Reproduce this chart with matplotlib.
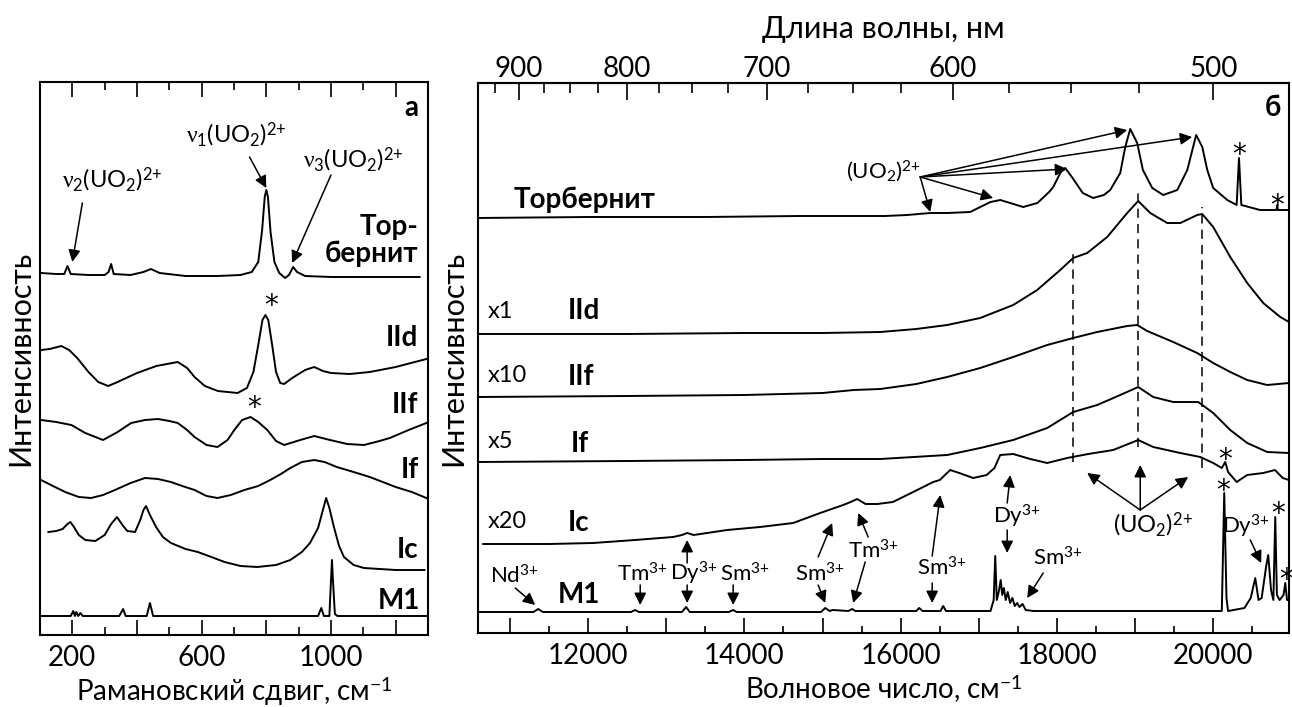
import numpy as np
import matplotlib
matplotlib.use('Agg')
import matplotlib.pyplot as plt
from matplotlib.ticker import FixedLocator, MultipleLocator, FuncFormatter

plt.rcParams['font.family'] = ['Lato', 'DejaVu Sans']
plt.rcParams['mathtext.fontset'] = 'custom'
plt.rcParams['mathtext.rm'] = 'Lato'
plt.rcParams['mathtext.it'] = 'Liberation Serif'
plt.rcParams['mathtext.bf'] = 'Lato:bold'

# ---------- Raman spectra (panel a), shift in cm-1, heights above own baseline
raman_torb_x = [103, 150, 175, 185, 195, 250, 300, 312, 320, 328, 380, 420, 443, 470, 550, 650, 720,
                755, 775, 787, 795, 800, 805, 813, 825, 840, 858, 870, 883, 895, 920, 1000, 1100, 1274]
raman_torb = [4, 3, 3, 11, 3, 2, 2, 5, 13, 3, 2, 5, 8, 4, 1, 1, 2,
              5, 15, 47, 80, 87, 80, 45, 15, 4, -1, 2, 10, 5, 1, 0, 0, 0]

raman_IId_x = [103, 130, 166, 190, 215, 250, 280, 311, 340, 400, 460, 526, 555, 578, 610, 650, 711, 740,
               760, 775, 788, 797, 806, 818, 830, 843, 855, 880, 920, 948, 975, 1000, 1058, 1120, 1200, 1295]
raman_IId = [43, 44, 47, 43, 35, 21, 11, 7, 11, 20, 27, 31, 25, 16, 7, 2, 0, 5,
             21, 48, 73, 78, 73, 48, 21, 10, 9, 15, 23, 26, 22, 20, 19, 21, 26, 34]

raman_IIf_x = [103, 150, 197, 240, 295, 340, 382, 425, 465, 500, 526, 555, 578, 615, 649, 680,
               701, 725, 751, 775, 803, 830, 855, 905, 948, 997, 1050, 1102, 1150, 1182, 1240, 1295]
raman_IIf = [27, 25, 22, 14, 7, 15, 24, 27, 28, 26, 24, 17, 10, 2, 0, 7,
             17, 27, 30, 25, 17, 6, 2, 7, 11, 7, 3, 2, 6, 9, 17, 24]

raman_If_x = [103, 140, 178, 220, 258, 295, 332, 380, 425, 465, 505, 540, 578, 615, 649,
              690, 732, 775, 812, 845, 874, 910, 948, 980, 1018, 1070, 1120, 1200, 1250, 1295]
raman_If = [18, 12, 6, 1, 0, 3, 8, 15, 20, 19, 16, 12, 8, 2, 0,
            3, 8, 12, 18, 24, 30, 36, 38, 36, 31, 26, 21, 11, 6, 0]

raman_Ic_x = [126, 150, 170, 185, 194, 205, 220, 240, 271, 300, 320, 338, 355, 370, 394, 410, 420, 428,
              440, 459, 480, 505, 550, 588, 630, 671, 720, 772, 830, 874, 910, 935, 950, 960, 975,
              985, 995, 1009, 1025, 1040, 1070, 1102, 1200, 1289]
raman_Ic = [38, 39, 41, 46, 48, 43, 35, 30, 29, 35, 46, 53, 45, 39, 38, 50, 60, 64,
            55, 43, 33, 27, 21, 18, 13, 8, 4, 3, 5, 10, 18, 27, 36, 42, 60,
            72, 62, 43, 24, 13, 5, 2, 0, 0]

raman_M1_x = [101, 195, 203, 208, 212, 218, 225, 232, 345, 357, 365, 430, 440, 450,
              960, 970, 978, 995, 1000, 1003, 1006, 1012, 1020, 1299]
raman_M1 = [0, 0, 5, 0, 4, 0, 3, 0, 0, 7, 0, 0, 13, 0,
            0, 8, 0, 0, 36, 56, 36, 2, 0, 0]

raman_offsets = {'torb': 358, 'IId': 242, 'IIf': 188, 'If': 137, 'Ic': 65, 'M1': 19}

# ---------- luminescence spectra (panel б), wavenumber in cm-1
lum_torb_x = [10590, 12000, 13500, 14700, 15200, 15800, 16083, 16378, 16600, 16890, 17018, 17150,
              17274, 17400, 17568, 17750, 17900, 17952, 18050, 18106, 18200, 18330, 18464, 18600,
              18682, 18810, 18874, 18938, 19027, 19100, 19220, 19360, 19540, 19668, 19782, 19860,
              19924, 20000, 20180, 20300, 20330, 20360, 20600, 20810, 20819, 20830, 20970]
lum_torb = [-1, 0, 0, 1, 1, 1, 2, 4, 4, 5, 10, 15,
            17, 14, 10, 14, 25, 30, 45, 49, 39, 24, 19, 22,
            27, 44, 70, 88, 74, 47, 29, 22, 27, 47, 82, 70,
            47, 29, 17, 12, 59, 12, 7, 7, 12, 7, 7]

lum_IId_x = [10590, 12500, 14000, 15000, 15738, 16200, 16595, 17018, 17440, 17747, 18042, 18208, 18387,
             18643, 18899, 19040, 19194, 19411, 19580, 19795, 19859, 20000, 20218, 20435, 20640, 20858, 20970]
lum_IId = [0, 0, 1, 1, 2, 5, 9, 16, 29, 44, 64, 76, 81,
           97, 121, 133, 121, 111, 111, 119, 120, 107, 77, 51, 31, 17, 12]

lum_IIf_x = [10590, 12500, 14000, 15000, 15400, 15738, 16200, 16595, 17018, 17440, 17875, 18208,
             18515, 18899, 19027, 19155, 19488, 19795, 20000, 20218, 20435, 20691, 20970]
lum_IIf = [0, 1, 2, 4, 7, 8, 13, 20, 29, 40, 52, 59,
           65, 71, 72, 66, 55, 44, 34, 25, 17, 12, 14]

lum_If_x = [10590, 12500, 14000, 15000, 15738, 16595, 17018, 17440, 17875, 18208, 18515,
            18810, 19040, 19232, 19488, 19808, 20000, 20218, 20435, 20691, 20970]
lum_If = [0, 1, 2, 3, 3, 7, 14, 22, 34, 50, 57,
          67, 75, 65, 60, 60, 49, 32, 19, 10, 9]

lum_Ic_x = [10656, 11500, 12064, 12600, 13088, 13200, 13267, 13350, 13779, 14200, 14624, 14970,
            15264, 15360, 15443, 15550, 15700, 15900, 16160, 16416, 16500, 16634, 16750, 16928,
            17100, 17200, 17274, 17440, 17658, 17875, 18131, 18400, 18720, 19040, 19232, 19578,
            19834, 20000, 20110, 20154, 20190, 20300, 20435, 20640, 20790, 20890, 20970]
lum_Ic = [1, 1, 2, 5, 8, 10, 12, 10, 15, 18, 22, 32,
          40, 43, 46, 41, 41, 43, 53, 63, 65, 75, 72, 67,
          70, 77, 90, 91, 86, 82, 87, 91, 95, 105, 98, 92,
          88, 82, 77, 83, 73, 63, 70, 72, 75, 67, 65]

lum_M1_x = [10592, 11300, 11360, 11420, 12550, 12600, 12650, 13200, 13254, 13300, 13800, 13856, 13900,
            14980, 15034, 15090, 15130, 15330, 15379, 15420, 16200, 16237, 16280, 16510, 16544, 16580,
            17150, 17190, 17210, 17230, 17260, 17280, 17300, 17320, 17345, 17370, 17400, 17430, 17460,
            17490, 17520, 17560, 17600, 17700, 20110, 20141, 20170, 20190, 20400, 20480, 20538, 20580,
            20620, 20680, 20704, 20740, 20770, 20794, 20815, 20850, 20900, 20922, 20945, 20970]
lum_M1 = [-1, -1, 2, -1, -1, 1, -1, -1, 4, -1, -1, 1, -1,
          -1, 3, 0, 1, 0, 2, 0, 0, 3, 0, 0, 5, 0,
          0, 11, 55, 11, 21, 31, 16, 23, 11, 19, 8, 13, 5,
          8, 4, 7, 1, 0, 0, 118, 13, 0, 3, 13, 33, 11,
          13, 46, 56, 21, 11, 94, 16, 11, 16, 28, 11, 11]

lum_offsets = {'torb': 416, 'IId': 299, 'IIf': 236, 'If': 171, 'Ic': 88, 'M1': 22}

# uranyl bands marked by dashed lines and the vertical extent of each line
uo2_bands = [18208, 19040, 19859]
uo2_band_spans = [(171, 383), (186, 443), (165, 426)]

UO2 = '(UO$_2$)$^{2{+}}$'


def cm_to_nm(x):
    x = np.asarray(x, dtype=float)
    with np.errstate(divide='ignore', invalid='ignore'):
        return 1e7 / x


def arrow(ax, start, end):
    ax.annotate('', xy=end, xytext=start,
                arrowprops=dict(arrowstyle='-|>', color='k', lw=1.1,
                                mutation_scale=18, shrinkA=0, shrinkB=0))


def star(ax, x, y):
    # y is where the middle of the asterisk should sit
    ax.text(x, y - 16, '*', fontsize=20, family='DejaVu Sans', ha='center', va='baseline')


LW = 1.4
fig = plt.figure(figsize=(12.92, 7.07), dpi=100)
ax1 = fig.add_axes([40 / 1292, 1 - 635 / 707, 388 / 1292, 553 / 707])
ax2 = fig.add_axes([478 / 1292, 1 - 633 / 707, 811 / 1292, 550 / 707])

# ---------------- panel a
raman = [(raman_torb_x, raman_torb, 'torb'), (raman_IId_x, raman_IId, 'IId'),
         (raman_IIf_x, raman_IIf, 'IIf'), (raman_If_x, raman_If, 'If'),
         (raman_Ic_x, raman_Ic, 'Ic'), (raman_M1_x, raman_M1, 'M1')]
for xs, ys, key in raman:
    ax1.plot(xs, np.array(ys) + raman_offsets[key], color='k', lw=LW)

ax1.set_xlim(100, 1300)
ax1.set_ylim(0, 553)
ax1.set_yticks([])
ax1.xaxis.set_major_locator(MultipleLocator(200))
ax1.xaxis.set_minor_locator(MultipleLocator(100))
ax1.xaxis.set_major_formatter(FuncFormatter(lambda v, p: f'{int(v)}' if int(v) % 400 == 200 else ''))
ax1.tick_params(axis='x', which='major', direction='in', top=True, length=11, width=1.2,
                labelsize=20, pad=7)
ax1.tick_params(axis='x', which='minor', direction='in', top=True, length=6, width=1.2)
ax1.set_xlabel('Рамановский сдвиг, см$^{-1}$', fontsize=20, labelpad=3)
ax1.set_ylabel('Интенсивность', fontsize=22, labelpad=4)

ax1.text(1271, 527, 'а', fontsize=20, fontweight='bold', ha='right', va='center')
ax1.text(323, 455, r'$\nu_2$' + UO2, fontsize=17, ha='center', va='center')
ax1.text(708, 500, r'$\nu_1$' + UO2, fontsize=17, ha='center', va='center')
ax1.text(1068, 475, r'$\nu_3$' + UO2, fontsize=17, ha='center', va='center')
arrow(ax1, (231, 432), (200, 373))
arrow(ax1, (748, 478), (800, 447))
arrow(ax1, (1000, 460), (880, 372))

bold = dict(fontsize=20, fontweight='bold', ha='right', va='center')
ax1.text(1271, 408, 'Тор-', **bold)
ax1.text(1271, 381, 'бернит', **bold)
ax1.text(1271, 297, 'IId', **bold)
ax1.text(1271, 230, 'IIf', **bold)
ax1.text(1271, 165, 'If', **bold)
ax1.text(1271, 85, 'Ic', **bold)
ax1.text(1277, 34, 'M1', **bold)
star(ax1, 815, 337)
star(ax1, 763, 235)

# ---------------- panel б
lum = [(lum_torb_x, lum_torb, 'torb'), (lum_IId_x, lum_IId, 'IId'),
       (lum_IIf_x, lum_IIf, 'IIf'), (lum_If_x, lum_If, 'If'),
       (lum_Ic_x, lum_Ic, 'Ic'), (lum_M1_x, lum_M1, 'M1')]
for xs, ys, key in lum:
    ax2.plot(xs, np.array(ys) + lum_offsets[key], color='k', lw=LW)

for xb, (y0, y1) in zip(uo2_bands, uo2_band_spans):
    ax2.vlines(xb, y0, y1, colors='k', lw=1.1, linestyles=(0, (6, 4)))

ax2.set_xlim(10590, 20970)
ax2.set_ylim(0, 550)
ax2.set_yticks([])
ax2.xaxis.set_major_locator(MultipleLocator(1000))
ax2.xaxis.set_minor_locator(MultipleLocator(500))
ax2.xaxis.set_major_formatter(FuncFormatter(lambda v, p: f'{int(v)}' if int(v) % 2000 == 0 else ''))
ax2.tick_params(axis='x', which='major', direction='in', length=11, width=1.2, labelsize=20, pad=7)
ax2.tick_params(axis='x', which='minor', direction='in', length=5, width=1.2)
ax2.set_xlabel('Волновое число, см$^{-1}$', fontsize=20, labelpad=3)
ax2.set_ylabel('Интенсивность', fontsize=22, labelpad=8)

secax = ax2.secondary_xaxis('top', functions=(cm_to_nm, cm_to_nm))
secax.xaxis.set_major_locator(FixedLocator([500, 600, 700, 800, 900]))
secax.xaxis.set_minor_locator(FixedLocator(np.arange(475, 951, 25)))
secax.tick_params(which='major', direction='in', length=12, width=1.2, labelsize=20, pad=1)
secax.tick_params(which='minor', direction='in', length=7, width=1.2)
secax.set_xlabel('Длина волны, нм', fontsize=22, labelpad=13)

ax2.text(20870, 525, 'б', fontsize=20, fontweight='bold', ha='right', va='center')

ax2.text(15776, 462, UO2, fontsize=16, ha='center', va='center')
for tgt in [(16378, 421), (17184, 435), (18131, 464), (18899, 503), (19731, 496)]:
    arrow(ax2, (16250, 456), tgt)

star(ax2, 20333, 486)
star(ax2, 20819, 435)

lbold = dict(fontsize=20, fontweight='bold', ha='left', va='center')
ax2.text(11040, 433, 'Торбернит', **lbold)
ax2.text(11744, 322, 'IId', **lbold)
ax2.text(11744, 256, 'IIf', **lbold)
ax2.text(11780, 189, 'If', **lbold)
ax2.text(11744, 110, 'Ic', **lbold)
ax2.text(11616, 38, 'M1', **lbold)

scale = dict(fontsize=17, ha='left', va='center')
ax2.text(10720, 322, 'x1', **scale)
ax2.text(10720, 258, 'x10', **scale)
ax2.text(10720, 192, 'x5', **scale)
ax2.text(10720, 111, 'x20', **scale)

ion = dict(fontsize=16, ha='center', va='center')
ax2.text(11053, 58, 'Nd$^{3{+}}$', **ion)
arrow(ax2, (11066, 45), (11322, 28))
ax2.text(12691, 60, 'Tm$^{3{+}}$', **ion)
arrow(ax2, (12666, 48), (12666, 28))
ax2.text(13357, 60, 'Dy$^{3{+}}$', **ion)
arrow(ax2, (13267, 70), (13267, 93))
arrow(ax2, (13267, 48), (13267, 30))
ax2.text(14010, 60, 'Sm$^{3{+}}$', **ion)
arrow(ax2, (13856, 48), (13856, 28))
ax2.text(14970, 60, 'Sm$^{3{+}}$', **ion)
arrow(ax2, (14944, 76), (15123, 110))
arrow(ax2, (14944, 48), (15034, 30))
ax2.text(15648, 83, 'Tm$^{3{+}}$', **ion)
arrow(ax2, (15584, 96), (15456, 120))
arrow(ax2, (15546, 71), (15392, 30))
ax2.text(16531, 66, 'Sm$^{3{+}}$', **ion)
arrow(ax2, (16403, 77), (16506, 138))
arrow(ax2, (16403, 50), (16403, 30))
ax2.text(17491, 117, 'Dy$^{3{+}}$', **ion)
arrow(ax2, (17363, 130), (17402, 158))
arrow(ax2, (17363, 103), (17363, 80))
ax2.text(18016, 76, 'Sm$^{3{+}}$', **ion)
arrow(ax2, (17824, 60), (17619, 35))

ax2.text(19232, 108, UO2, fontsize=17, ha='center', va='center')
for tgt in [(18387, 160), (19066, 168), (19680, 156)]:
    arrow(ax2, (19066, 123), tgt)

star(ax2, 20154, 181)
star(ax2, 20128, 150)
ax2.text(20415, 107, 'Dy$^{3{+}}$', **ion)
arrow(ax2, (20474, 93), (20614, 70))
star(ax2, 20830, 127)
star(ax2, 20934, 61)

for ax in (ax1, ax2):
    for sp in ax.spines.values():
        sp.set_linewidth(1.5)
secax.spines['top'].set_linewidth(1.5)

fig.savefig('out.png', dpi=100)
